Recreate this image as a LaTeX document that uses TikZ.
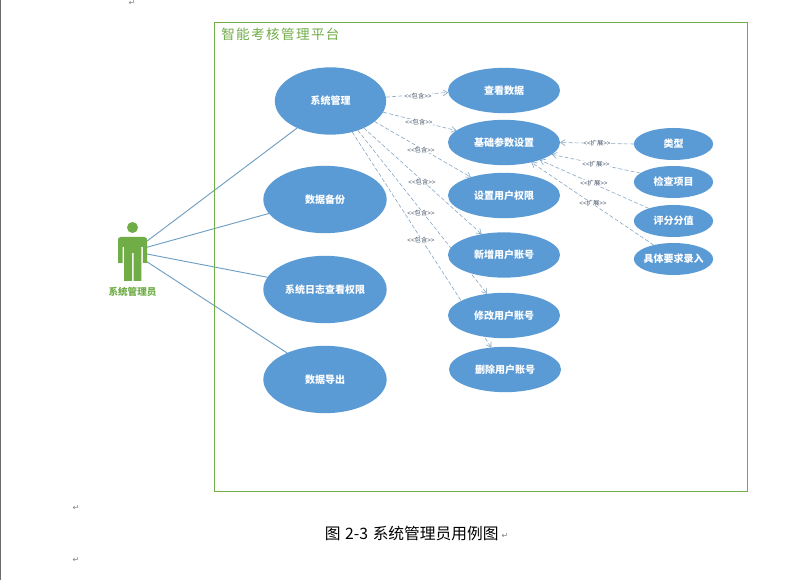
\documentclass[tikz,border=0pt]{standalone}
\usepackage{fontspec}
\setmainfont{Noto Sans CJK SC}
\newfontfamily\titlefont[LetterSpace=10]{Noto Sans CJK SC}
\newfontfamily\markfont{DejaVu Sans}
\newfontfamily\anglefont{Liberation Sans}
\newcommand{\stereo}[1]{{\anglefont <<}#1{\anglefont >>}}
\usetikzlibrary{shapes.geometric,arrows.meta}
\definecolor{uablue}{HTML}{5B9BD5}
\definecolor{uagreen}{HTML}{70AD47}
\definecolor{ualine}{HTML}{6F9FC4}
\definecolor{uadash}{HTML}{86A8C6}
\definecolor{ualabel}{HTML}{44546A}
\pgfdeclarelayer{paper}
\pgfdeclarelayer{back}
\pgfsetlayers{paper,back,main}
\tikzset{
  usecase/.style={ellipse,fill=uablue,text=white,inner sep=-10pt,outer sep=0pt,font=\fontsize{7.5pt}{9pt}\selectfont\bfseries},
  bigcase/.style={usecase,minimum width=92.5pt,minimum height=50.5pt},
  midcase/.style={usecase,minimum width=84pt,minimum height=34pt},
  smallcase/.style={usecase,minimum width=59.5pt,minimum height=24pt},
  assoc/.style={draw=ualine,line width=0.7pt},
  dep/.style={draw=uadash,line width=0.45pt,dash pattern=on 3pt off 1.6pt,-{Straight Barb[length=3.5pt,width=4.5pt,line width=0.45pt]}},
  deplabel/.style={fill=white,text=ualabel,inner sep=0.4pt,font=\fontsize{4.7pt}{5pt}\selectfont},
  retmark/.style={text=gray,inner sep=0pt,font=\fontsize{6pt}{6pt}\markfont}
}
\begin{document}
\begin{tikzpicture}[x=0.75pt,y=-0.75pt]
\useasboundingbox (0,0) rectangle (794,580);
\begin{pgfonlayer}{paper}
\fill[white] (0,0) rectangle (794,580);
\fill[gray!85!black] (0,0) rectangle (1.2,580);
\end{pgfonlayer}

% frame
\node[draw=uagreen,line width=0.75pt,minimum width=400.2pt,minimum height=351.75pt,inner sep=0pt,outer sep=0pt] (frame) at (480.8,257) {};
\node[anchor=west,text=uagreen,inner sep=0pt,font=\fontsize{10.2pt}{12pt}\titlefont] (title) at (221,34.5) {智能考核管理平台};

% actor
\fill[uagreen] (132.5,227.5) circle (5.5);
\fill[uagreen] (118,263) -- (118,240) .. controls (118,238) and (119,237) .. (121,237) -- (144,237) .. controls (146,237) and (147,238) .. (147,240) -- (147,263) -- (142.8,263) -- (142.8,247) -- (141.4,247) -- (141.4,281) -- (133.6,281) -- (133.6,253) -- (132,253) -- (132,281) -- (124,281) -- (124,247) -- (122.6,247) -- (122.6,263) -- cycle;
\node[minimum width=21.75pt,minimum height=33pt,inner sep=0pt,outer sep=0pt] (actor) at (132.5,259) {};
\node[text=uagreen,inner sep=0pt,font=\fontsize{7.2pt}{9pt}\selectfont\bfseries] (actorname) at (132.5,291.5) {系统管理员};

% use cases
\node[bigcase,minimum width=83.5pt] (sys) at (330.5,101) {系统管理};
\node[bigcase] (bak) at (325,199.5) {数据备份};
\node[bigcase] (log) at (325,289.5) {系统日志查看权限};
\node[bigcase] (exp) at (325,379.5) {数据导出};
\node[midcase] (view) at (504,90.5) {查看数据};
\node[midcase] (base) at (504,142.5) {基础参数设置};
\node[midcase] (perm) at (504,195.5) {设置用户权限};
\node[midcase] (add) at (504,255) {新增用户账号};
\node[midcase] (mod) at (504,315.5) {修改用户账号};
\node[midcase] (del) at (505,369.5) {删除用户账号};
\node[smallcase] (kind) at (673.5,144) {类型};
\node[smallcase] (item) at (673.5,182) {检查项目};
\node[smallcase] (score) at (673.5,221) {评分分值};
\node[smallcase] (req) at (673.5,259) {具体要求录入};

% connectors
\begin{pgfonlayer}{back}
\draw[assoc] (actor.51) -- (sys.219);
\draw[assoc] (actor.39.6) -- (bak.194.8);
\draw[assoc] (actor.19) -- (log.168.8);
\draw[assoc] (actor.-11.6) -- (exp.145);
\draw[dep] (sys.4) -- (view.182.5);
\draw[dep] (sys.-12.6) -- (base.166.5);
\draw[dep] (sys.-25) -- (perm.151.5);
\draw[dep] (sys.-39) -- (add.137.6);
\draw[dep] (sys.-47.5) -- (mod.128);
\draw[dep] (sys.-55) -- (del.122);
\draw[dep] (kind.180) -- (base.0);
\draw[dep] (item.165.8) -- (base.-14.3);
\draw[dep] (score.153.9) -- (base.-26);
\draw[dep] (req.145) -- (base.-36.5);
\end{pgfonlayer}

% connector labels
\node[deplabel] (l1) at (418,96) {\stereo{包含}};
\node[deplabel] (l2) at (419,122) {\stereo{包含}};
\node[deplabel] (l3) at (421,150) {\stereo{包含}};
\node[deplabel] (l4) at (422,182) {\stereo{包含}};
\node[deplabel] (l5) at (421,213) {\stereo{包含}};
\node[deplabel] (l6) at (421,240) {\stereo{包含}};
\node[deplabel] (e1) at (597,143) {\stereo{扩展}};
\node[deplabel] (e2) at (596,164) {\stereo{扩展}};
\node[deplabel] (e3) at (594,183) {\stereo{扩展}};
\node[deplabel] (e4) at (593,203) {\stereo{扩展}};

% caption and paragraph marks
\node[anchor=west,inner sep=0pt,font=\fontsize{11.8pt}{14pt}\selectfont] (cap) at (324.5,534) {图\hspace{3.5pt}2-3\hspace{3.5pt}系统管理员用例图};
\node[retmark] (m1) at (132,3) {↵};
\node[retmark] (m2) at (76,508) {↵};
\node[retmark] (m3) at (76,560) {↵};
\node[retmark] (m4) at (505,536) {↵};
\end{tikzpicture}
\end{document}
